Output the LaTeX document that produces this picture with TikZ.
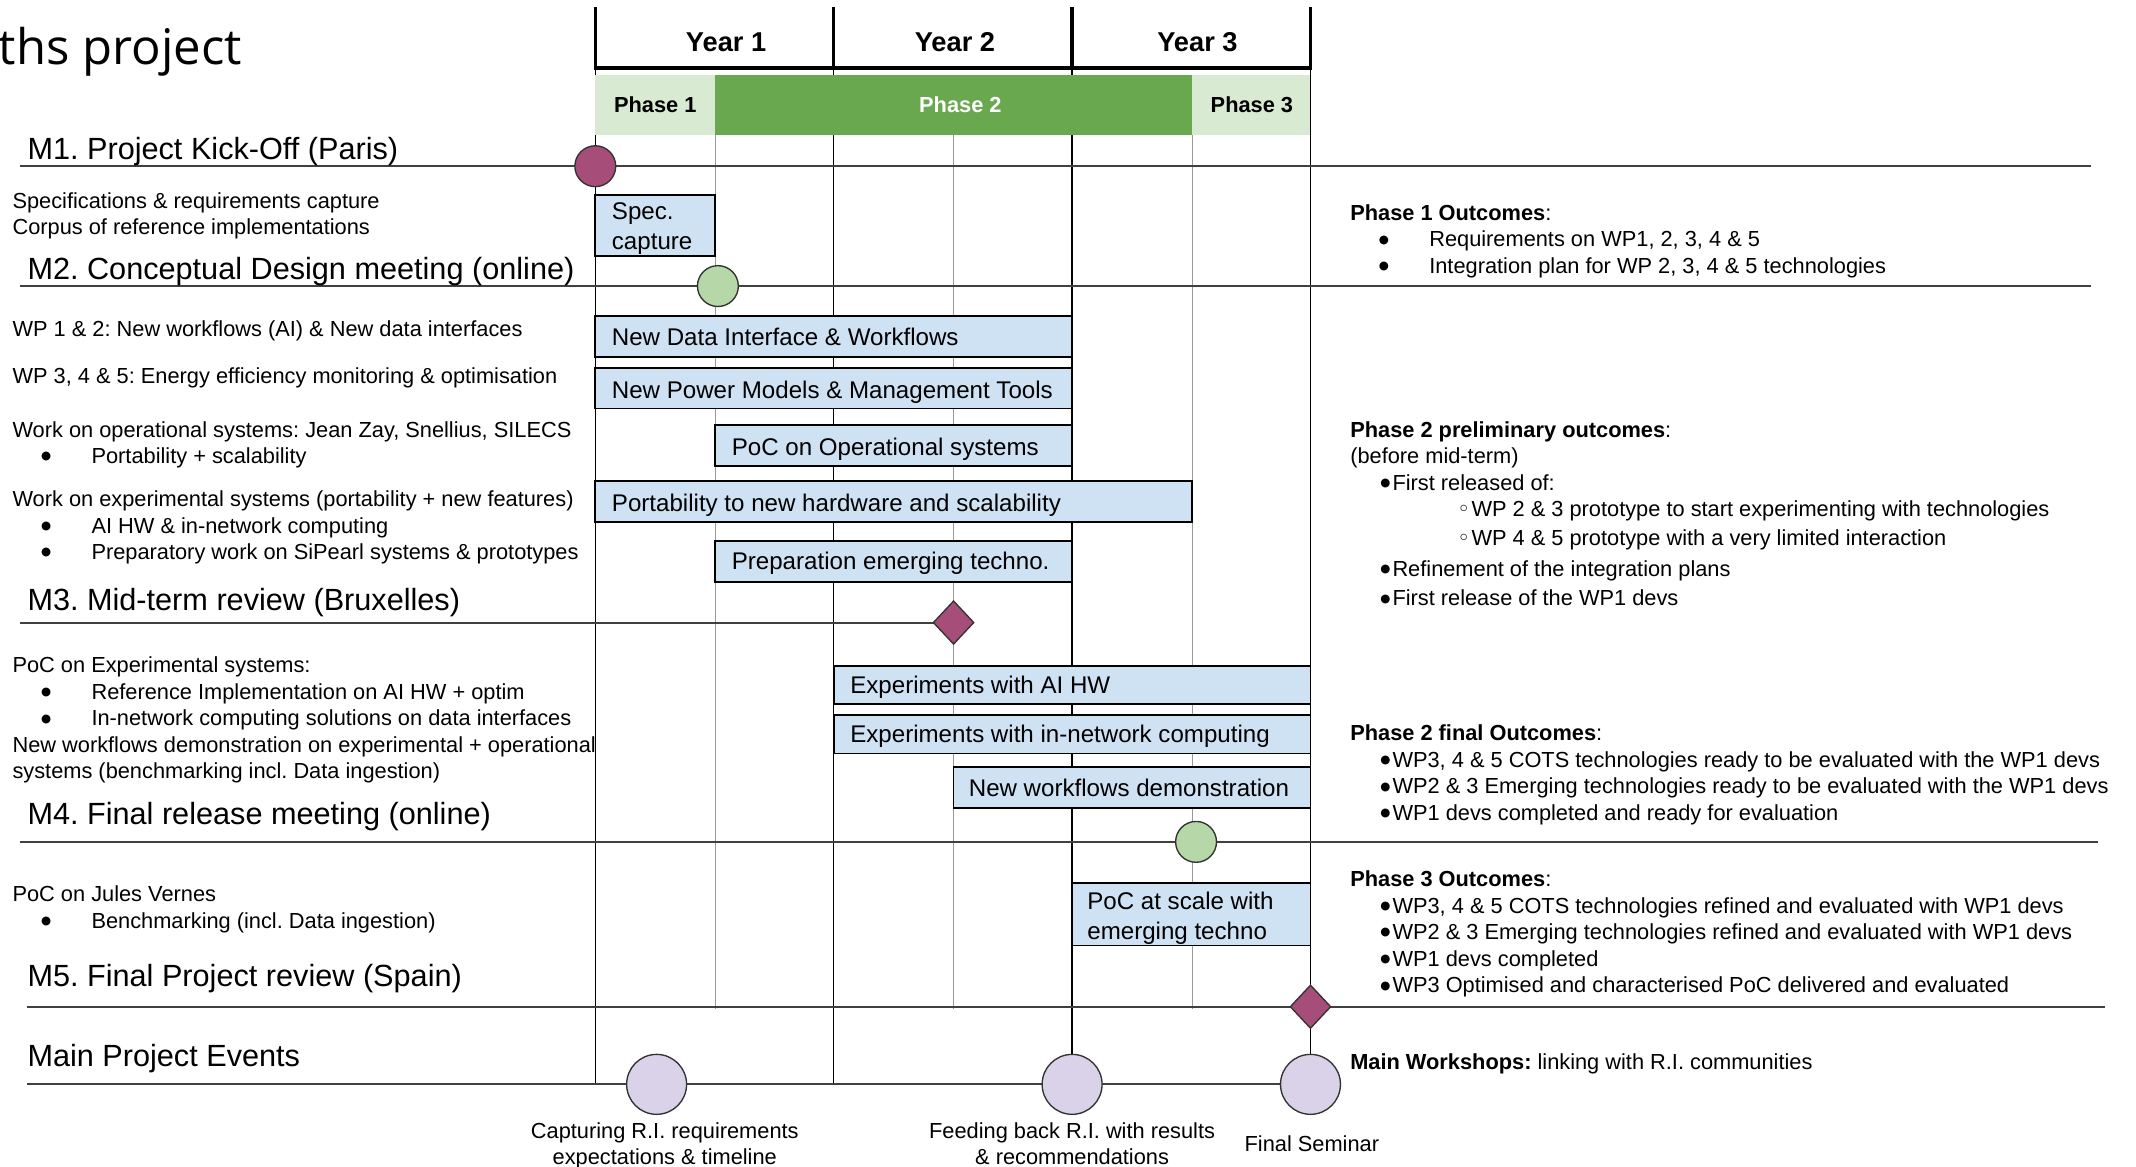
\documentclass[tikz,border=0pt]{standalone}
\usepackage{fontspec}
\setmainfont{Liberation Sans}
\newfontfamily\titlefont{Open Sans}
\newfontfamily\symfont{DejaVu Sans}
\usetikzlibrary{shapes.geometric}
\frenchspacing

\definecolor{milepink}{HTML}{A64D79}
\definecolor{milegreen}{HTML}{B6D7A8}
\definecolor{eventlilac}{HTML}{D9D2E9}
\definecolor{taskblue}{HTML}{CFE2F3}
\definecolor{phasedark}{HTML}{6AA84F}
\definecolor{phaselight}{HTML}{D9EAD3}

\tikzstyle{gridline} = [line width=1pt, black]
\tikzstyle{halfline} = [line width=0.6pt, black!40]
\tikzstyle{mileline} = [line width=1.5pt, black!75]
\tikzstyle{yearline} = [line width=2.5pt, black]
\tikzstyle{task} = [draw=black, line width=1.2pt, fill=taskblue]
\tikzstyle{tasktext} = [anchor=base west, inner sep=0pt, align=left, font=\fontsize{17.7}{22}\selectfont]
\tikzstyle{milestone} = [anchor=base west, inner sep=0pt, font=\fontsize{22.5}{27}\selectfont]
\tikzstyle{notes} = [anchor=base west, inner sep=0pt, align=left, font=\fontsize{16}{19.5}\selectfont]
\tikzstyle{milecircle} = [circle, draw=black!80, line width=1pt, minimum size=30pt, inner sep=0pt]
\tikzstyle{milediamond} = [diamond, draw=black!80, line width=1pt, minimum width=30pt, minimum height=32pt, inner sep=0pt, fill=milepink]
\tikzstyle{eventcircle} = [circle, draw=black!80, line width=1pt, minimum size=44pt, inner sep=0pt, fill=eventlilac]

\newcommand{\blob}{\raisebox{2.8pt}{\symfont\fontsize{8.5}{10}\selectfont ●}}
\newcommand{\bulw}{\makebox[58pt][l]{\hspace{21pt}\blob}}
\newcommand{\bult}{\makebox[31pt][r]{\blob\hspace{1.5pt}}}
\newcommand{\bulo}{\makebox[89pt][r]{{\symfont ◦}\hspace{1pt}}}

\begin{document}
\begin{tikzpicture}[x=1pt, y=-1pt]
    \useasboundingbox (0,0) rectangle (1568,856.6);

    \draw (-1,47) node[anchor=base west, inner sep=0pt, font=\titlefont\fontsize{36}{40}\selectfont] (title) {ths project};

    % Grid
    \draw[gridline] (437,50) -- (437,796);
    \draw[gridline] (612,50) -- (612,796);
    \draw[gridline] (787,50) -- (787,796);
    \draw[gridline] (962,50) -- (962,796);
    \draw[halfline] (525,99) -- (525,741);
    \draw[halfline] (700,99) -- (700,741);
    \draw[halfline] (875,99) -- (875,741);

    % Years and phases
    \draw[yearline] (437,5) -- (437,50);
    \draw[yearline] (612,5) -- (612,50);
    \draw[yearline] (787,5) -- (787,50);
    \draw[yearline] (962,5) -- (962,50);
    \draw[line width=3.5pt] (435.75,50) -- (963.25,50);
    \draw (533,31) node[inner sep=0pt, font=\bfseries\fontsize{20}{24}\selectfont] (year1) {Year 1};
    \draw (701,31) node[inner sep=0pt, font=\bfseries\fontsize{20}{24}\selectfont] (year2) {Year 2};
    \draw (879,31) node[inner sep=0pt, font=\bfseries\fontsize{20}{24}\selectfont] (year3) {Year 3};

    \fill[phaselight] (437,55) rectangle (525,99);
    \fill[phasedark] (525,55) rectangle (875,99);
    \fill[phaselight] (875,55) rectangle (962,99);
    \draw (481,77) node[inner sep=0pt, font=\bfseries\fontsize{16}{19}\selectfont] (phase1) {Phase 1};
    \draw (705,77) node[inner sep=0pt, text=white, font=\bfseries\fontsize{16}{19}\selectfont] (phase2) {Phase 2};
    \draw (919,77) node[inner sep=0pt, font=\bfseries\fontsize{16}{19}\selectfont] (phase3) {Phase 3};

    % Milestone lines
    \draw[mileline] (15,122) -- (1535,122);
    \draw[mileline] (15,210) -- (1535,210);
    \draw[mileline] (15,457) -- (700,457);
    \draw[mileline] (15,618) -- (1540,618);
    \draw[mileline] (20,739) -- (1545,739);
    \draw[mileline] (20,796) -- (962,796);

    \draw (20,117) node[milestone] (m1) {M1. Project Kick-Off (Paris)};
    \draw (20,205) node[milestone] (m2) {M2. Conceptual Design meeting (online)};
    \draw (20,448) node[milestone] (m3) {M3. Mid-term review (Bruxelles)};
    \draw (20,605) node[milestone] (m4) {M4. Final release meeting (online)};
    \draw (20,724) node[milestone] (m5) {M5. Final Project review (Spain)};
    \draw (20,783) node[milestone] (events) {Main Project Events};

    % Tasks (multi-line texts sit on their last line)
    \draw[task] (437,143) rectangle (525,188);
        \draw (449,183.4) node[tasktext] (spec) {Spec.\\capture};
    \draw[task] (437,232) rectangle (787,262);
        \draw (449,253.4) node[tasktext] (ndi) {New Data Interface \& Workflows};
    \draw[task] (437,270) rectangle (787,300);
        \draw (449,292.4) node[tasktext] (power) {New Power Models \& Management Tools};
    \draw[task] (525,312) rectangle (787,342);
        \draw (537,334.4) node[tasktext] (pocop) {PoC on Operational systems};
    \draw[task] (437,353) rectangle (875,383);
        \draw (449,375.4) node[tasktext] (port) {Portability to new hardware and scalability};
    \draw[task] (525,397) rectangle (787,427);
        \draw (537,418.4) node[tasktext] (prep) {Preparation emerging techno.};
    \draw[task] (612,489) rectangle (962,517);
        \draw (624,509.4) node[tasktext] (aihw) {Experiments with AI HW};
    \draw[task] (612,525) rectangle (962,553);
        \draw (624,545.4) node[tasktext] (innet) {Experiments with in-network computing};
    \draw[task] (700,563) rectangle (962,593);
        \draw (711,584.4) node[tasktext] (demo) {New workflows demonstration};
    \draw[task] (787,648) rectangle (962,694);
        \draw (798,689.4) node[tasktext] (scale) {PoC at scale with\\emerging techno};

    % Markers
    \draw (437,122) node[milecircle, fill=milepink] (kickoff) {};
    \draw (527,210) node[milecircle, fill=milegreen] (design) {};
    \draw (700,457) node[milediamond] (midterm) {};
    \draw (878,618) node[milecircle, fill=milegreen] (release) {};
    \draw (962,739) node[milediamond] (review) {};
    \draw (482,796) node[eventcircle] (capture) {};
    \draw (787,796) node[eventcircle] (feedback) {};
    \draw (962,796) node[eventcircle] (seminar) {};

    % Left notes
    \draw (9,172.3) node[notes] (specnote) {Specifications \& requirements capture\\Corpus of reference implementations};
    \draw (9,246.8) node[notes] (wp12) {WP 1 \& 2: New workflows (AI) \& New data interfaces};
    \draw (9,281.8) node[notes] (wp345) {WP 3, 4 \& 5: Energy efficiency monitoring \& optimisation};
    \draw (9,340.3) node[notes] (opnote) {Work on operational systems: Jean Zay, Snellius, SILECS\\\bulw Portability + scalability};
    \draw (9,410.8) node[notes] (expnote) {Work on experimental systems (portability + new features)\\\bulw AI HW \& in-network computing\\\bulw Preparatory work on SiPearl systems \& prototypes};
    \draw (9,571.8) node[notes] (pocnote) {PoC on Experimental systems:\\\bulw Reference Implementation on AI HW + optim\\\bulw In-network computing solutions on data interfaces\\New workflows demonstration on experimental + operational\\systems (benchmarking incl. Data ingestion)};
    \draw (9,681.3) node[notes] (julesnote) {PoC on Jules Vernes\\\bulw Benchmarking (incl. Data ingestion)};

    % Right notes
    \draw (991,200.8) node[notes] (out1) {\textbf{Phase 1 Outcomes}:\\\bulw Requirements on WP1, 2, 3, 4 \& 5\\\bulw Integration plan for WP 2, 3, 4 \& 5 technologies};
    \draw (991,444.8) node[notes] (out2a) {\textbf{Phase 2 preliminary outcomes}:\\(before mid-term)\\\bult First released of:\\\bulo WP 2 \& 3 prototype to start experimenting with technologies\\[2pt]\bulo WP 4 \& 5 prototype with a very limited interaction\\[3pt]\bult Refinement of the integration plans\\[2pt]\bult First release of the WP1 devs};
    \draw (991,602.3) node[notes] (out2b) {\textbf{Phase 2 final Outcomes}:\\\bult WP3, 4 \& 5 COTS technologies ready to be evaluated with the WP1 devs\\\bult WP2 \& 3 Emerging technologies ready to be evaluated with the WP1 devs\\\bult WP1 devs completed and ready for evaluation};
    \draw (991,728.8) node[notes] (out3) {\textbf{Phase 3 Outcomes}:\\\bult WP3, 4 \& 5 COTS technologies refined and evaluated with WP1 devs\\\bult WP2 \& 3 Emerging technologies refined and evaluated with WP1 devs\\\bult WP1 devs completed\\\bult WP3 Optimised and characterised PoC delivered and evaluated};
    \draw (991,784.8) node[notes] (workshops) {\textbf{Main Workshops:} linking with R.I. communities};

    % Event labels
    \draw (488,855) node[notes, anchor=base, align=center] (capturetext) {Capturing R.I. requirements\\expectations \& timeline};
    \draw (787,855) node[notes, anchor=base, align=center] (feedbacktext) {Feeding back R.I. with results\\\& recommendations};
    \draw (963,845) node[notes, anchor=base, align=center] (seminartext) {Final Seminar};
\end{tikzpicture}
\end{document}
